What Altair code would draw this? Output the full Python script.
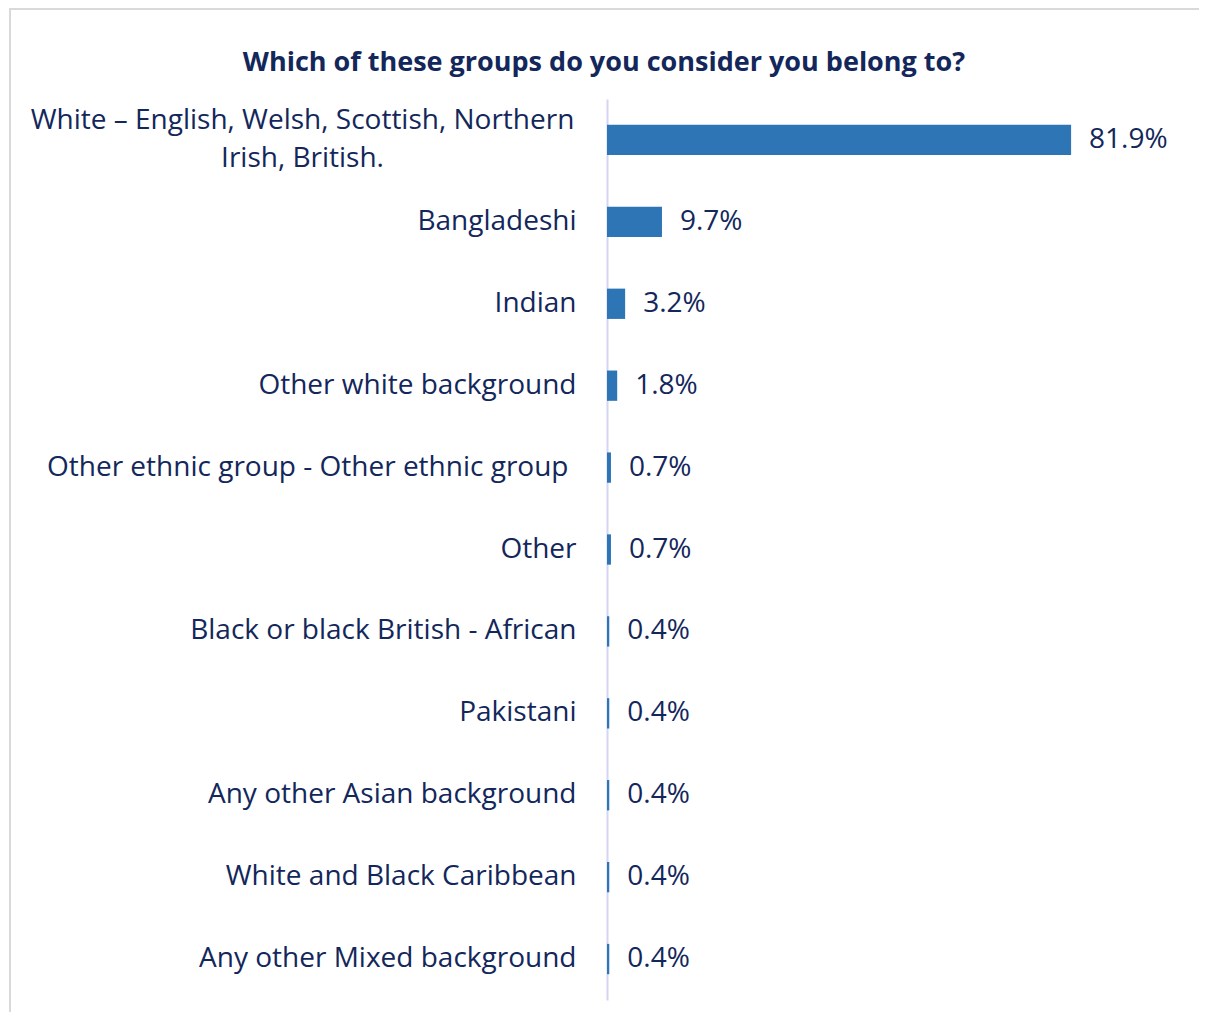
import altair as alt
import pandas as pd

categories = [
    "White – English, Welsh, Scottish, Northern\nIrish, British.",
    "Bangladeshi",
    "Indian",
    "Other white background",
    "Other ethnic group - Other ethnic group",
    "Other",
    "Black or black British - African",
    "Pakistani",
    "Any other Asian background",
    "White and Black Caribbean",
    "Any other Mixed background",
]
shares = [0.819, 0.097, 0.032, 0.018, 0.007, 0.007, 0.004, 0.004, 0.004, 0.004, 0.004]

df = pd.DataFrame({"group": categories, "share": shares})

NAVY = "#13275b"
BLUE = "#2e75b6"
FONT = "Open Sans"
MULTI = "indexof(datum.value, '\\n') >= 0"
SHIFTED = "datum.value == 'Other ethnic group - Other ethnic group'"

y_enc = alt.Y(
    "group:N",
    sort=categories,
    scale=alt.Scale(paddingInner=0.63, paddingOuter=0.315, round=False),
    axis=alt.Axis(
        title=None,
        ticks=False,
        domainColor="#d6d4f2",
        domainWidth=2,
        labelFont=FONT,
        labelFontSize=28,
        labelColor=NAVY,
        labelPadding={
            "condition": [
                {"test": MULTI, "value": 305},
                {"test": SHIFTED, "value": 39},
            ],
            "value": 31,
        },
        labelAlign={"condition": {"test": MULTI, "value": "center"}, "value": "right"},
        labelOffset={"condition": {"test": MULTI, "value": -19}, "value": 0},
        labelLimit=700,
        labelLineHeight=38,
        labelExpr="split(datum.label, '\\n')",
    ),
)
x_enc = alt.X("share:Q", scale=alt.Scale(domain=[0, 0.9]), axis=None)

base = alt.Chart(df)
bars = base.mark_bar(color=BLUE).encode(x=x_enc, y=y_enc)
labels = base.mark_text(
    align="left", baseline="middle", dx=18, font=FONT, fontSize=28, color=NAVY
).encode(x=x_enc, y=alt.Y("group:N", sort=categories), text=alt.Text("share:Q", format=".1%"))

frame = alt.Chart(df).mark_rect(fill=None, stroke="#d9d9d9", strokeWidth=2).encode(
    x=alt.value(-597), x2=alt.value(700), y=alt.value(-90), y2=alt.value(1000)
)

chart = (
    alt.layer(frame, bars, labels)
    .properties(
        width=510,
        height=901,
        autosize=alt.AutoSizeParams(type="none"),
        padding={"left": 599, "top": 91, "right": 82, "bottom": 12},
        view=alt.ViewBackground(stroke="transparent", strokeWidth=0),
        title=alt.TitleParams(
            "Which of these groups do you consider you belong to?",
            font=FONT,
            fontSize=27,
            fontWeight="bold",
            color=NAVY,
            anchor="middle",
            dx=-258,
            dy=118,
            baseline="alphabetic",
            offset=28,
        ),
    )
    .configure_view(stroke="transparent", strokeWidth=0)
    .configure(background="white")
)

chart.save("out.html", embed_options={"renderer": "svg", "actions": False})
